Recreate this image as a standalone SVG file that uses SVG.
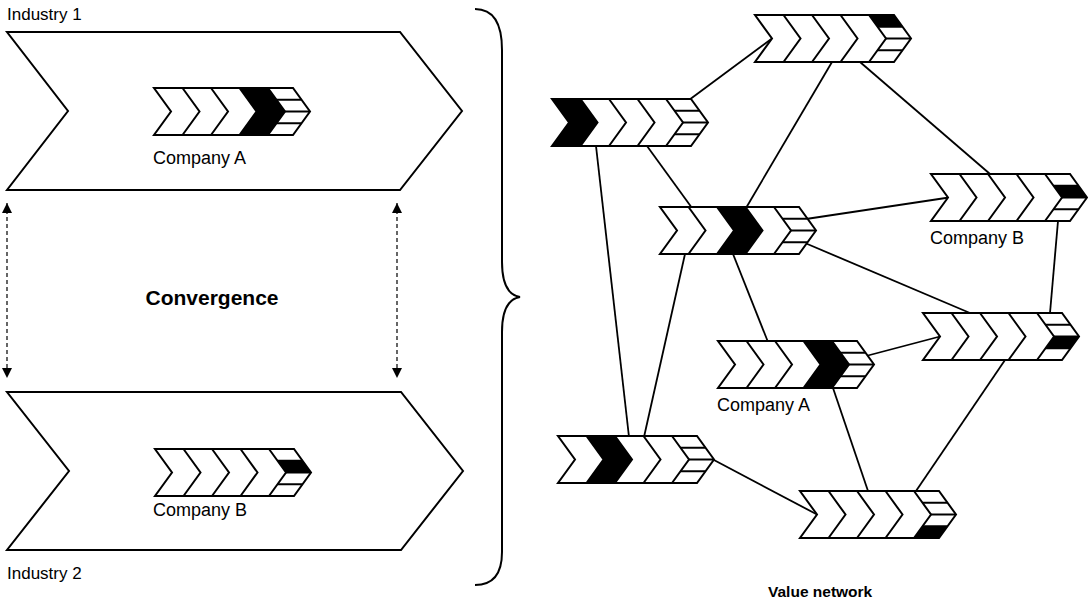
<svg xmlns="http://www.w3.org/2000/svg" xmlns:xlink="http://www.w3.org/1999/xlink" width="1088" height="603" viewBox="0 0 1088 603">
  <style>
    .ln { stroke: #000; stroke-width: 1.8; fill: none; }
    .ol { stroke: #000; stroke-width: 2; fill: none; stroke-linejoin: miter; }
    .bg { fill: #fff; }
    .hi { fill: #000; }
    .dash { stroke: #000; stroke-width: 1.2; stroke-dasharray: 4 3; fill: none; }
    .lbl { font-family: "Liberation Sans", Arial, sans-serif; font-size: 18px; fill: #000; }
    .ind { font-family: "Liberation Sans", Arial, sans-serif; font-size: 17px; fill: #000; }
    .ttl { font-family: "Liberation Sans", Arial, sans-serif; font-weight: bold; fill: #000; }
  </style>
  <defs>
    <marker id="ah" viewBox="0 0 10 10" refX="10" refY="5" markerWidth="10" markerHeight="11" markerUnits="userSpaceOnUse" orient="auto-start-reverse">
      <path d="M0,0 L10,5 L0,10 Z" fill="#000"/>
    </marker>
    <!-- value chain icon: background, highlight pieces and line work -->
    <polygon id="vc-bg" class="bg" points="0,0 139,0 156,23.5 139,47 0,47 17,23.5"/>
    <polygon id="seg1" points="0,0 28.5,0 45.5,23.5 28.5,47 0,47 17,23.5"/>
    <polygon id="seg2" points="28.5,0 57,0 74,23.5 57,47 28.5,47 45.5,23.5"/>
    <polygon id="seg3" points="57,0 85.5,0 102.5,23.5 85.5,47 57,47 74,23.5"/>
    <polygon id="seg4" points="85.5,0 114,0 131,23.5 114,47 85.5,47 102.5,23.5"/>
    <polygon id="row1" points="114,0 139,0 147.5,11.75 122.5,11.75"/>
    <polygon id="row2" points="122.5,11.75 147.5,11.75 156,23.5 131,23.5"/>
    <polygon id="row3" points="131,23.5 156,23.5 147.5,35.25 122.5,35.25"/>
    <polygon id="row4" points="122.5,35.25 147.5,35.25 139,47 114,47"/>
    <g id="vc-lines" class="ol">
      <polygon points="0,0 139,0 156,23.5 139,47 0,47 17,23.5"/>
      <polyline points="28.5,0 45.5,23.5 28.5,47"/>
      <polyline points="57,0 74,23.5 57,47"/>
      <polyline points="85.5,0 102.5,23.5 85.5,47"/>
      <polyline points="114,0 131,23.5 114,47"/>
      <line x1="122.5" y1="11.75" x2="147.5" y2="11.75"/>
      <line x1="131" y1="23.5" x2="156" y2="23.5"/>
      <line x1="122.5" y1="35.25" x2="147.5" y2="35.25"/>
    </g>
  </defs>

  <rect width="1088" height="603" fill="#fff"/>

  <!-- Industry 1 -->
  <g id="industry1">
    <polygon class="ol" points="7,32 400,32 462,111 400,190 7,190 68,111"/>
    <text class="ind" x="7" y="20">Industry 1</text>
  </g>
  <g id="industry1-companyA" transform="translate(154,88)">
    <use href="#vc-bg"/><use href="#seg4" class="hi"/><use href="#vc-lines"/>
  </g>
  <text class="lbl" x="153" y="164">Company A</text>

  <!-- Industry 2 -->
  <g id="industry2">
    <polygon class="ol" points="7,392 401,392 463,471 401,550 7,550 69,471"/>
    <text class="ind" x="7" y="579">Industry 2</text>
  </g>
  <g id="industry2-companyB" transform="translate(155,449)">
    <use href="#vc-bg"/><use href="#row2" class="hi"/><use href="#vc-lines"/>
  </g>
  <text class="lbl" x="153" y="516">Company B</text>

  <!-- convergence arrows -->
  <g id="convergence">
    <line class="dash" x1="7" y1="203" x2="7" y2="378" marker-start="url(#ah)" marker-end="url(#ah)"/>
    <line class="dash" x1="397" y1="203" x2="397" y2="378" marker-start="url(#ah)" marker-end="url(#ah)"/>
    <text class="ttl" x="212" y="305" font-size="21" text-anchor="middle">Convergence</text>
  </g>

  <!-- brace -->
  <path id="brace" class="ol" d="M475,9 C495,9 502,25 502,50 L502,262 C502,284 508,295 520,297 C508,299 502,310 502,332 L502,552 C502,572 495,585 475,585"/>

  <!-- value network links -->
  <g id="connectors" class="ln">
    <line x1="689" y1="100" x2="772" y2="38.5"/>
    <line x1="832" y1="62" x2="746" y2="208"/>
    <line x1="860" y1="62" x2="990" y2="174"/>
    <line x1="647" y1="146" x2="692" y2="208"/>
    <line x1="596" y1="146" x2="629" y2="437"/>
    <line x1="685" y1="254" x2="644" y2="437"/>
    <line x1="806" y1="219" x2="949" y2="197.5"/>
    <line x1="805" y1="243" x2="970" y2="313"/>
    <line x1="733" y1="254" x2="768" y2="342"/>
    <line x1="1058" y1="221" x2="1050" y2="313"/>
    <line x1="866" y1="356" x2="940" y2="336.5"/>
    <line x1="833" y1="388" x2="868" y2="491"/>
    <line x1="1005" y1="360" x2="916" y2="491"/>
    <line x1="713" y1="459.5" x2="817" y2="514.5"/>
  </g>

  <!-- value network nodes -->
  <g id="n1" transform="translate(755,15)">
    <use href="#vc-bg"/><use href="#row1" class="hi"/><use href="#vc-lines"/>
  </g>
  <g id="n2" transform="translate(552,99)">
    <use href="#vc-bg"/><use href="#seg1" class="hi"/><use href="#vc-lines"/>
  </g>
  <g id="n3" transform="translate(660,207)">
    <use href="#vc-bg"/><use href="#seg3" class="hi"/><use href="#vc-lines"/>
  </g>
  <g id="n4-companyB">
    <g transform="translate(931,174)">
      <use href="#vc-bg"/><use href="#row2" class="hi"/><use href="#vc-lines"/>
    </g>
    <text class="lbl" x="930" y="244">Company B</text>
  </g>
  <g id="n5" transform="translate(923,313)">
    <use href="#vc-bg"/><use href="#row3" class="hi"/><use href="#vc-lines"/>
  </g>
  <g id="n6-companyA">
    <g transform="translate(718,341)">
      <use href="#vc-bg"/><use href="#seg4" class="hi"/><use href="#vc-lines"/>
    </g>
    <text class="lbl" x="717" y="411">Company A</text>
  </g>
  <g id="n7" transform="translate(558,436)">
    <use href="#vc-bg"/><use href="#seg2" class="hi"/><use href="#vc-lines"/>
  </g>
  <g id="n8" transform="translate(800,491)">
    <use href="#vc-bg"/><use href="#row4" class="hi"/><use href="#vc-lines"/>
  </g>

  <text class="ttl" x="768" y="597" font-size="15.5">Value network</text>
</svg>
